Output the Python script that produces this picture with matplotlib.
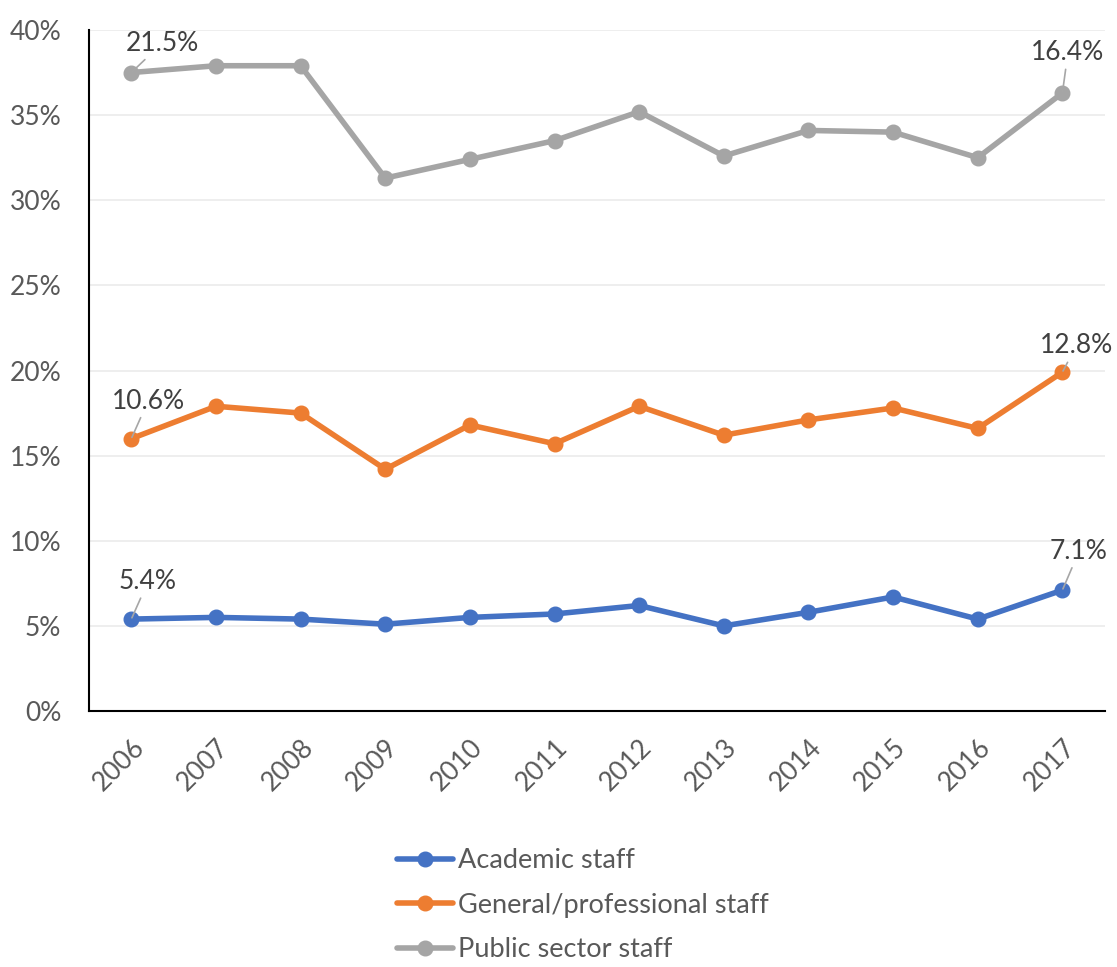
import matplotlib.pyplot as plt
from matplotlib.ticker import PercentFormatter

plt.rcParams["font.family"] = ["Lato", "DejaVu Sans"]

years = ["2006", "2007", "2008", "2009", "2010", "2011",
         "2012", "2013", "2014", "2015", "2016", "2017"]
academic = [5.4, 5.5, 5.4, 5.1, 5.5, 5.7, 6.2, 5.0, 5.8, 6.7, 5.4, 7.1]
general = [16.0, 17.9, 17.5, 14.2, 16.8, 15.7, 17.9, 16.2, 17.1, 17.8, 16.6, 19.9]
public = [37.5, 37.9, 37.9, 31.3, 32.4, 33.5, 35.2, 32.6, 34.1, 34.0, 32.5, 36.3]

# end-point labels shown on the chart
academic_labels = ["5.4%", "7.1%"]
general_labels = ["10.6%", "12.8%"]
public_labels = ["21.5%", "16.4%"]

series = [
    ("Academic staff", academic, academic_labels, "#4472C4"),
    ("General/professional staff", general, general_labels, "#ED7D31"),
    ("Public sector staff", public, public_labels, "#A5A5A5"),
]

fig = plt.figure(figsize=(11.17, 9.67), dpi=100)
ax = fig.add_axes([0.0797, 0.2647, 0.9093, 0.7043])

x = list(range(len(years)))
for name, vals, labs, color in series:
    ax.plot(x, vals, color=color, lw=4, marker="o", ms=10.5,
            label=name, solid_capstyle="round")

# label offsets (points) for first and last point
offsets = {
    "Academic staff": [(12, 27), (12, 28)],
    "General/professional staff": [(12, 27), (10, 19)],
    "Public sector staff": [(22, 21), (4, 29)],
}
for name, vals, labs, color in series:
    for idx, lab in zip([0, len(x) - 1], labs):
        off = offsets[name][0 if idx == 0 else 1]
        ax.annotate(lab, xy=(x[idx], vals[idx]), xytext=off,
                    textcoords="offset points", ha="center", va="center",
                    fontsize=19, color="#404040",
                    arrowprops=dict(arrowstyle="-", color="#A6A6A6", lw=1.2,
                                    shrinkA=1, shrinkB=1))

ax.set_xlim(-0.5, len(years) - 0.5)
ax.set_ylim(0, 40)
ax.set_yticks(range(0, 41, 5))
ax.yaxis.set_major_formatter(PercentFormatter(decimals=0))
ax.set_xticks(x)
ax.set_xticklabels(years, rotation=45, ha="right", rotation_mode="anchor")
ax.tick_params(axis="both", length=0, labelsize=19, labelcolor="#595959")
ax.tick_params(axis="y", pad=20)
ax.tick_params(axis="x", pad=17)
ax.grid(axis="y", color="#EBEBEB", lw=1.2)
ax.set_axisbelow(True)
for side in ["top", "right"]:
    ax.spines[side].set_visible(False)
for side in ["left", "bottom"]:
    ax.spines[side].set_color("black")
    ax.spines[side].set_linewidth(1.5)

fig.legend(loc="upper left", bbox_to_anchor=(0.346, 0.134), frameon=False,
           fontsize=19.5, labelcolor="#595959", handlelength=2.05,
           handletextpad=0.2, labelspacing=0.72, borderaxespad=0)

fig.savefig("out.png", dpi=100)
